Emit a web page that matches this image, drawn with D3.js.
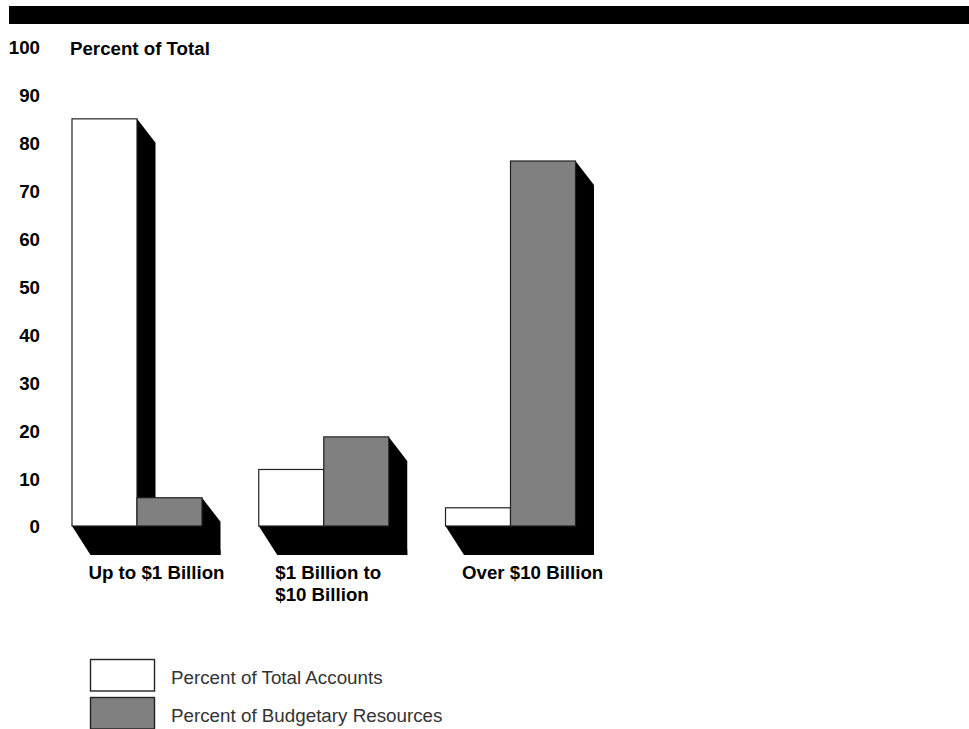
<!DOCTYPE html>
<html>
<head>
<meta charset="utf-8">
<script src="https://cdn.jsdelivr.net/npm/d3@7/dist/d3.min.js"></script>
<style>
html,body{margin:0;padding:0;background:#fff;}
svg{display:block;}
text{font-family:"Liberation Sans",Arial,sans-serif;fill:#000;}
</style>
</head>
<body>
<svg id="c" width="969" height="729"></svg>
<script>
const categories = ["Up to $1 Billion", "$1 Billion to\n$10 Billion", "Over $10 Billion"];
const seriesNames = ["Percent of Total Accounts", "Percent of Budgetary Resources"];
const accounts = [85, 11.8, 3.8];
const resources = [5.9, 18.6, 76.2];
const tickValues = [0,10,20,30,40,50,60,70,80,90,100];
const yTitle = "Percent of Total";
const seriesFill = ["#ffffff", "#808080"];

const svg = d3.select("#c");
const DX = 18.5, DY = 24, FLOOR = 29, FS = 18.7;

const y = d3.scaleLinear().domain([0,100]).range([526,47]);
const x = d3.scaleBand().domain(categories).range([72,575.5]).paddingInner(56.75/186.75).paddingOuter(0);
const xs = d3.scaleBand().domain(seriesNames).range([0,x.bandwidth()]);
const values = [accounts, resources];

// header rule
svg.append("rect").attr("x",9).attr("y",6).attr("width",960).attr("height",18).attr("fill","#000");

// y axis labels
const axis = d3.axisLeft(y).tickValues(tickValues).tickSize(0).tickPadding(0).tickFormat(d3.format("d"));
const ax = svg.append("g").attr("transform","translate(40,1)").call(axis);
ax.select(".domain").remove();
ax.selectAll("text").attr("font-size",FS).attr("font-weight","bold")
  .style("font-family",'"Liberation Sans",Arial,sans-serif').attr("fill","#000");

svg.append("text").attr("x",70).attr("y",54.5).attr("font-size",FS).attr("font-weight","bold").text(yTitle);

// groups
categories.forEach((c,i)=>{
  const g = svg.append("g").attr("transform",`translate(${x(c)},0)`);
  const w = x.bandwidth();
  const base = y(0);
  // floor
  g.append("polygon").attr("fill","#000").attr("points",[
    [0,base],[w,base],[w+DX,base+DY],[w+DX,base+FLOOR],[DX,base+FLOOR]
  ].join(" "));
  // side shadows, run down into the floor so no seam shows
  seriesNames.forEach((s,j)=>{
    const v = values[j][i], x1 = xs(s)+xs.bandwidth();
    g.append("polygon").attr("fill","#000").attr("points",[
      [x1,y(v)],[x1+DX,y(v)+DY],[x1+DX,base+FLOOR],[x1,base+FLOOR]
    ].join(" "));
  });
  // faces
  seriesNames.forEach((s,j)=>{
    const v = values[j][i];
    g.append("rect").attr("x",xs(s)).attr("y",y(v)).attr("width",xs.bandwidth()).attr("height",base-y(v))
      .attr("fill",seriesFill[j]).attr("stroke","#222").attr("stroke-width",1.2);
  });
  // category label
  const lines = c.split("\n");
  const t = g.append("text").attr("font-size",FS).attr("font-weight","bold");
  lines.forEach((l,k)=>t.append("tspan").attr("x",16.5).attr("y",579+k*22).text(l));
});

// legend
const legY = d3.scalePoint().domain(seriesNames).range([659,697]);
seriesNames.forEach((s,j)=>{
  svg.append("rect").attr("x",90.5).attr("y",legY(s)+.5).attr("width",64).attr("height",31.5)
    .attr("fill",seriesFill[j]).attr("stroke","#222").attr("stroke-width",1.4);
  svg.append("text").attr("x",171).attr("y",legY(s)+24.5).attr("font-size",18.8).style("fill","#333").text(s);
});
</script>
</body>
</html>
